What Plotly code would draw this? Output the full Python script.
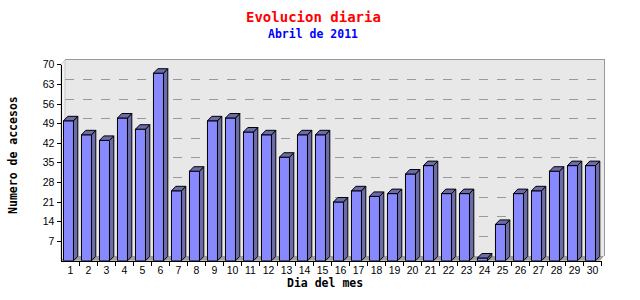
import plotly.graph_objects as go

days = list(range(1, 31))
day_labels = [str(d) for d in days]
accesses = [50, 45, 43, 51, 47, 67, 25, 32, 50, 51, 46, 45, 37, 45, 45,
            21, 25, 23, 24, 31, 34, 24, 24, 1, 13, 24, 25, 32, 34, 34]
y_ticks = [7, 14, 21, 28, 35, 42, 49, 56, 63, 70]
grid_ticks = [7, 14, 21, 28, 35, 42, 49, 56, 63]

W, H = 640, 300
FRONT = "#8888ff"
SIDE = "#6b6ba8"
BAR_W = 0.556
BAR_OFF = -0.39
DX = 0.24     # depth in category units
DY = 1.6      # depth in value units


def px(x):
    return x / W


def py(y):
    return 1 - y / H


fig = go.Figure()

# back wall axes (gridlines only)
fig.add_trace(go.Scatter(x=[], y=[], xaxis="x", yaxis="y", showlegend=False, hoverinfo="skip"))

# front bars
fig.add_trace(go.Bar(
    x=days, y=accesses, xaxis="x2", yaxis="y2",
    width=BAR_W, offset=BAR_OFF,
    marker=dict(color=FRONT, line=dict(color="black", width=1)),
    showlegend=False, hoverinfo="skip",
))

# 3D side and top faces computed from data
sx, sy, tx, ty = [], [], [], []
for d, v in zip(days, accesses):
    x0 = d + BAR_OFF
    x1 = d + BAR_OFF + BAR_W
    sx += [x1, x1, x1 + DX, x1 + DX, x1, None]
    sy += [0, v, v + DY, DY, 0, None]
    tx += [x0, x1, x1 + DX, x0 + DX, x0, None]
    ty += [v, v, v + DY, v + DY, v, None]

for xs, ys in ((sx, sy), (tx, ty)):
    fig.add_trace(go.Scatter(
        x=xs, y=ys, xaxis="x2", yaxis="y2", mode="lines", fill="toself",
        fillcolor=SIDE, line=dict(color="black", width=1),
        showlegend=False, hoverinfo="skip", cliponaxis=False,
    ))

shapes = [
    # back wall
    dict(type="rect", xref="paper", yref="paper", layer="below",
         x0=px(65), x1=px(604), y0=py(255), y1=py(55),
         fillcolor="#e8e8e8", line=dict(width=0)),
    # left side wall
    dict(type="path", xref="paper", yref="paper", layer="below",
         path=f"M {px(61)} {py(60)} L {px(65)} {py(55)} L {px(65)} {py(255)} L {px(61)} {py(260)} Z",
         fillcolor="#f2f2f2", line=dict(color="#c8c8c8", width=1)),
    # floor
    dict(type="path", xref="paper", yref="paper", layer="below",
         path=f"M {px(61)} {py(260)} L {px(65)} {py(255)} L {px(604)} {py(255)} L {px(600)} {py(260)} Z",
         fillcolor="#a0a0a0", line=dict(width=0)),
]

mono = "DejaVu Sans Mono"


def label(text, x, y, size, color, angle=0):
    return dict(text=text, x=px(x), y=py(y), xref="paper", yref="paper",
                xanchor="center", yanchor="middle", showarrow=False,
                textangle=angle, font=dict(family=mono, size=size, color=color))


annotations = [
    label("<b>Evolucion diaria</b>", 313, 11, 14, "#ff0000"),
    label("<b>Abril de 2011</b>", 313, 29, 11.5, "#0000ff"),
    label("<b>Dia del mes</b>", 325, 283, 11.5, "black"),
    label("<b>Numero de accesos</b>", 13, 152, 11.5, "black", -90),
]

tick_font = dict(family="Liberation Sans", size=10.5, color="black")

fig.update_layout(
    width=W, height=H,
    margin=dict(l=0, r=0, t=0, b=0),
    paper_bgcolor="white", plot_bgcolor="rgba(0,0,0,0)",
    showlegend=False,
    shapes=shapes, annotations=annotations,
    xaxis=dict(domain=[px(65), px(604)], anchor="y", range=[0.5, 30.5],
               side="top", showline=True, linecolor="#999999", linewidth=1,
               showticklabels=False, ticks="", showgrid=False, zeroline=False),
    yaxis=dict(domain=[py(255), py(55)], anchor="x", range=[0, 70],
               side="right", showline=True, linecolor="#999999", linewidth=1,
               showticklabels=False, ticks="", tickvals=grid_ticks,
               showgrid=True, gridcolor="#999999", griddash="dash", gridwidth=1,
               zeroline=False),
    xaxis2=dict(domain=[px(61.5), px(601.5)], anchor="y2", range=[0.5, 30.5],
                tickvals=days, ticktext=day_labels, ticks="",
                minor=dict(tickvals=[d + 0.5 for d in days], ticks="outside",
                           ticklen=4, tickcolor="black", showgrid=False),
                showline=True, linecolor="black", linewidth=1,
                showgrid=False, zeroline=False, tickfont=tick_font),
    yaxis2=dict(domain=[py(260), py(60)], anchor="x2", range=[0, 70],
                tickvals=y_ticks, ticks="outside", ticklen=4, tickcolor="black",
                showline=True, linecolor="black", linewidth=1,
                showgrid=False, zeroline=False, tickfont=tick_font),
)

fig.write_html("out.html")
